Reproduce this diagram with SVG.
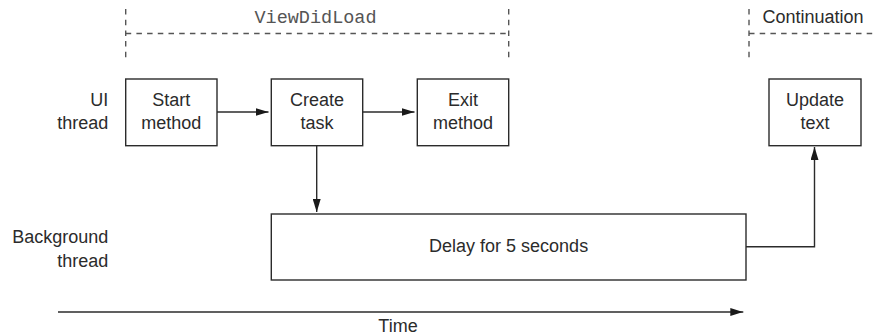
<svg xmlns="http://www.w3.org/2000/svg" width="877" height="336" viewBox="0 0 877 336">
  <style>
    .box { fill: #ffffff; stroke: #2b2b2b; stroke-width: 1.4; }
    .lbl { font-family: "Liberation Sans", Arial, sans-serif; font-size: 18px; fill: #2b2b2b; }
    .mid { text-anchor: middle; }
    .end { text-anchor: end; }
    .mono { font-family: "Liberation Mono", "Courier New", monospace; font-size: 18.5px; fill: #555555; text-anchor: middle; }
    .dash { stroke: #555555; stroke-width: 1.4; stroke-dasharray: 5.5 5.2; fill: none; }
    .conn { stroke: #2b2b2b; stroke-width: 1.4; fill: none; }
  </style>
  <defs>
    <marker id="arr" viewBox="0 0 13 8" refX="13" refY="4" markerWidth="13" markerHeight="8" markerUnits="userSpaceOnUse" orient="auto">
      <path d="M0,0 L13,4 L0,8 Z" fill="#1a1a1a"/>
    </marker>
  </defs>

  <g id="brackets">
    <line class="dash" x1="125.7" y1="9" x2="125.7" y2="58"/>
    <line class="dash" x1="508.7" y1="9" x2="508.7" y2="58"/>
    <line class="dash" x1="125.7" y1="33.5" x2="508.7" y2="33.5"/>
    <text class="mono" x="315.5" y="23">ViewDidLoad</text>
    <line class="dash" x1="749" y1="9" x2="749" y2="58"/>
    <line class="dash" x1="749" y1="33.5" x2="877" y2="33.5"/>
    <text class="lbl" x="762.5" y="22.5">Continuation</text>
  </g>

  <g id="lane-labels">
    <text class="lbl end" x="108.3" y="106">UI</text>
    <text class="lbl end" x="108.3" y="129.3">thread</text>
    <text class="lbl end" x="108.3" y="243.3">Background</text>
    <text class="lbl end" x="108.3" y="266.7">thread</text>
  </g>

  <g id="start-method">
    <rect class="box" x="125.7" y="79" width="91.3" height="66.7"/>
    <text class="lbl mid" x="171.3" y="105.5">Start</text>
    <text class="lbl mid" x="171.3" y="129">method</text>
  </g>
  <g id="create-task">
    <rect class="box" x="271.3" y="79" width="91.4" height="66.7"/>
    <text class="lbl mid" x="317" y="105.5">Create</text>
    <text class="lbl mid" x="317" y="129">task</text>
  </g>
  <g id="exit-method">
    <rect class="box" x="417.3" y="79" width="91.4" height="66.7"/>
    <text class="lbl mid" x="463" y="105.5">Exit</text>
    <text class="lbl mid" x="463" y="129">method</text>
  </g>
  <g id="update-text">
    <rect class="box" x="769" y="79" width="92" height="66.7"/>
    <text class="lbl mid" x="815" y="105.5">Update</text>
    <text class="lbl mid" x="815" y="129">text</text>
  </g>
  <g id="delay">
    <rect class="box" x="271.3" y="214" width="474.7" height="66"/>
    <text class="lbl mid" x="508.6" y="252">Delay for 5 seconds</text>
  </g>

  <g id="connectors">
    <line class="conn" x1="217" y1="112" x2="268.5" y2="112" marker-end="url(#arr)"/>
    <line class="conn" x1="362.7" y1="112" x2="414.5" y2="112" marker-end="url(#arr)"/>
    <line class="conn" x1="316.7" y1="145.7" x2="316.7" y2="212" marker-end="url(#arr)"/>
    <polyline class="conn" points="746,246.7 814.5,246.7 814.5,147" marker-end="url(#arr)"/>
  </g>

  <g id="time-axis">
    <line class="conn" x1="58" y1="312" x2="743.3" y2="312" marker-end="url(#arr)"/>
    <text class="lbl mid" x="398" y="332">Time</text>
  </g>
</svg>
